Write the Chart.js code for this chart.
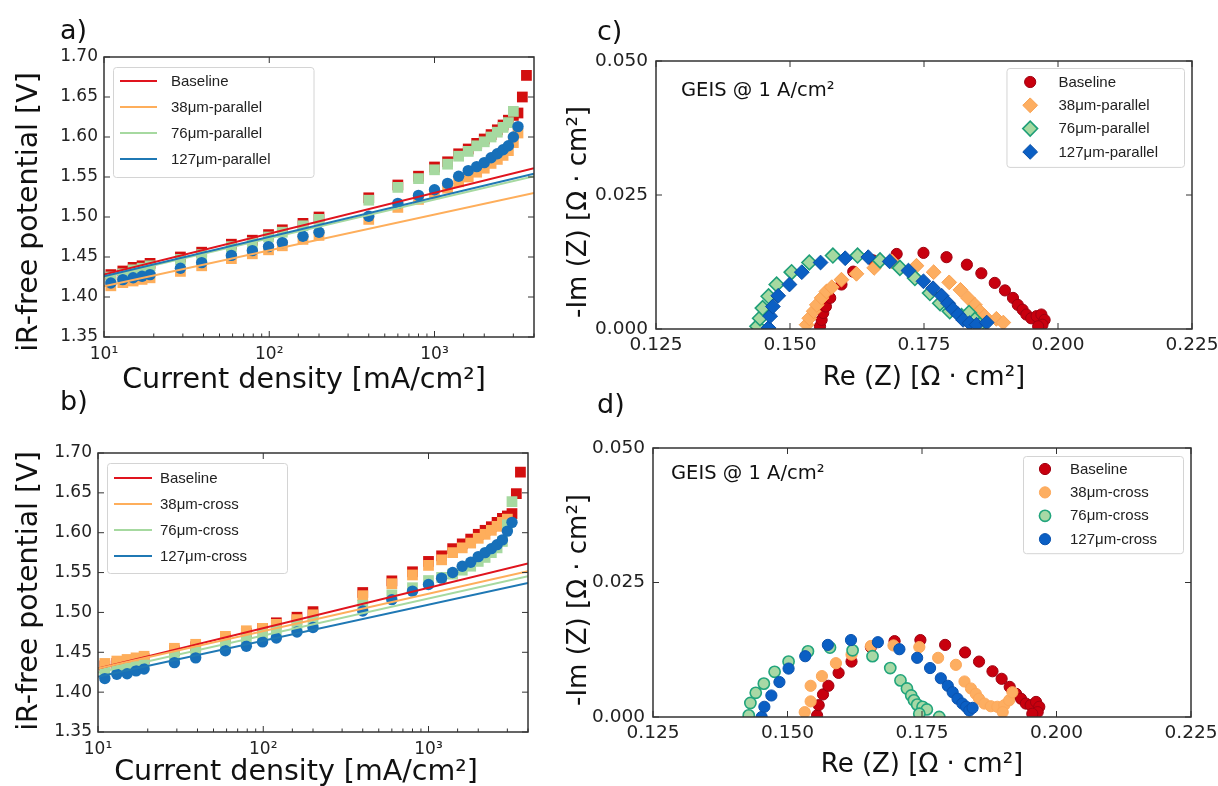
<!DOCTYPE html>
<html>
<head>
<meta charset="utf-8">
<script src="https://cdn.jsdelivr.net/npm/chart.js@4.4.1/dist/chart.umd.min.js"></script>
<style>
  body { margin: 0; background: #fff; width: 1218px; height: 786px; position: relative; overflow: hidden; font-family: 'DejaVu Sans'; color: #111; }
  canvas { position: absolute; }
  .lbl { position: absolute; white-space: nowrap; line-height: 1; }
  .ctr { transform: translateX(-50%); }
  .rot { transform: translate(-50%, -50%) rotate(-90deg); }
</style>
</head>
<body>
<canvas id="chartA" width="560" height="392" style="left:0;top:0"></canvas>
<canvas id="chartB" width="560" height="394" style="left:0;top:392px"></canvas>
<canvas id="chartC" width="658" height="392" style="left:560px;top:0"></canvas>
<canvas id="chartD" width="658" height="394" style="left:560px;top:392px"></canvas>

<div class="lbl" style="left:60px;top:16px;font-size:27px">a)</div>
<div class="lbl" style="left:60px;top:387px;font-size:27px">b)</div>
<div class="lbl" style="left:597px;top:17px;font-size:27px">c)</div>
<div class="lbl" style="left:597px;top:390px;font-size:27px">d)</div>

<div class="lbl rot" style="left:28px;top:212px;font-size:28.5px">iR-free potential [V]</div>
<div class="lbl rot" style="left:28px;top:591px;font-size:28.5px">iR-free potential [V]</div>
<div class="lbl ctr" style="left:304px;top:365px;font-size:28.5px">Current density [mA/cm²]</div>
<div class="lbl ctr" style="left:296px;top:757px;font-size:28.5px">Current density [mA/cm²]</div>

<div class="lbl rot" style="left:577px;top:212px;font-size:26px">-Im (Z) [Ω · cm²]</div>
<div class="lbl rot" style="left:577px;top:600px;font-size:26px">-Im (Z) [Ω · cm²]</div>
<div class="lbl ctr" style="left:924px;top:363px;font-size:26px">Re (Z) [Ω · cm²]</div>
<div class="lbl ctr" style="left:922px;top:750px;font-size:26px">Re (Z) [Ω · cm²]</div>

<div class="lbl" style="left:681px;top:80px;font-size:19.5px">GEIS @ 1 A/cm²</div>
<div class="lbl" style="left:671px;top:463px;font-size:19.5px">GEIS @ 1 A/cm²</div>

<script>
// ---- polarisation data (panels a, b) ----
const current = [11, 13, 15, 17, 19, 29, 39, 59, 79, 99, 120, 160, 200, 400, 600, 800, 1000,
                 1200, 1400, 1600, 1800, 2000, 2200, 2400, 2600, 2800, 3000, 3200, 3400, 3600];
const fitEnds = [10, 4000];
const logTickValues = [10, 100, 1000];
const logTickLabels = ['10¹', '10²', '10³'];

const baseA  = [1.428, 1.4325, 1.437, 1.439, 1.442, 1.450, 1.456, 1.466, 1.471, 1.478, 1.484, 1.492, 1.500, 1.524, 1.540,
                1.551, 1.5625, 1.569, 1.579, 1.585, 1.592, 1.5975, 1.603, 1.609, 1.615, 1.621, 1.627, 1.630, 1.650, 1.677];
const par38  = [1.414, 1.418, 1.420, 1.422, 1.424, 1.432, 1.439, 1.448, 1.454, 1.459, 1.464, 1.472, 1.477, 1.497,
                1.512, 1.522, 1.529, 1.536, 1.544, 1.550, 1.556, 1.561, 1.567, 1.572, 1.577, 1.583, 1.593, 1.605];
const par76  = [1.425, 1.429, 1.434, 1.436, 1.439, 1.447, 1.453, 1.463, 1.468, 1.475, 1.481, 1.489, 1.497, 1.521,
                1.537, 1.548, 1.559, 1.566, 1.576, 1.582, 1.589, 1.594, 1.600, 1.606, 1.612, 1.618, 1.632];
const par127 = [1.4175, 1.4217, 1.424, 1.426, 1.428, 1.436, 1.443, 1.452, 1.458, 1.463, 1.468, 1.476, 1.481, 1.501,
                1.517, 1.527, 1.534, 1.542, 1.551, 1.558, 1.563, 1.568, 1.574, 1.579, 1.584, 1.589, 1.600, 1.613];
const fitBaseA = [1.428, 1.561];
const fitPar38 = [1.4133, 1.530];
const fitPar76 = [1.425, 1.551];
const fitPar127 = [1.426, 1.554];

const baseB    = [1.433, 1.436, 1.438, 1.440, 1.442, 1.452, 1.457, 1.467, 1.474, 1.480, 1.487, 1.494, 1.501, 1.525, 1.5396,
                  1.551, 1.564, 1.571, 1.580, 1.586, 1.592, 1.598, 1.603, 1.6075, 1.613, 1.618, 1.621, 1.624, 1.649, 1.676];
const cross38  = [1.436, 1.439, 1.441, 1.443, 1.445, 1.455, 1.460, 1.470, 1.477, 1.480, 1.485, 1.491, 1.497, 1.521,
                  1.536, 1.547, 1.559, 1.566, 1.575, 1.581, 1.587, 1.593, 1.598, 1.603, 1.608, 1.613, 1.617];
const cross76  = [1.425, 1.428, 1.430, 1.432, 1.434, 1.445, 1.450, 1.460, 1.466, 1.472, 1.477, 1.483, 1.489, 1.509,
                  1.522, 1.531, 1.540, 1.544, 1.548, 1.553, 1.558, 1.564, 1.569, 1.575, 1.581, 1.589, 1.610, 1.639];
const cross127 = [1.417, 1.4225, 1.423, 1.4267, 1.429, 1.437, 1.443, 1.452, 1.4575, 1.463, 1.468, 1.4755, 1.481, 1.5017,
                  1.516, 1.5267, 1.535, 1.543, 1.550, 1.558, 1.563, 1.570, 1.575, 1.580, 1.585, 1.591, 1.602, 1.613];
const fitBaseB = [1.4296, 1.5613];
const fitCross38 = [1.4296, 1.5517];
const fitCross76 = [1.4246, 1.5454];
const fitCross127 = [1.4192, 1.537];

// ---- impedance data (panels c, d) ----
const reBaseC = [0.1556, 0.1559, 0.1562, 0.1567, 0.1575, 0.1596, 0.1618, 0.1655, 0.1699, 0.1749, 0.1792, 0.1830, 0.1857,
                 0.1882, 0.1901, 0.1916, 0.1925, 0.1934, 0.1941, 0.1950, 0.1960, 0.1969, 0.1975, 0.1971, 0.1963];
const imBaseC = [0.0005, 0.0017, 0.0030, 0.0042, 0.0058, 0.0083, 0.0107, 0.0128, 0.0140, 0.0142, 0.0134, 0.0120, 0.0104,
                 0.0086, 0.0072, 0.0058, 0.0045, 0.0036, 0.0027, 0.0020, 0.0024, 0.0027, 0.0017, 0.0008, 0.0005];
const rePar38 = [0.1531, 0.1536, 0.1544, 0.1550, 0.1559, 0.1568, 0.1578, 0.1596, 0.1624, 0.1657, 0.1690, 0.1736, 0.1768,
                 0.1797, 0.1818, 0.1832, 0.1845, 0.1854, 0.1863, 0.1885, 0.1898];
const imPar38 = [0.0008, 0.0020, 0.0033, 0.0045, 0.0058, 0.0070, 0.0078, 0.0092, 0.0103, 0.0114, 0.0126, 0.0118, 0.0106,
                 0.0087, 0.0073, 0.0058, 0.0045, 0.0033, 0.0024, 0.0019, 0.0012];
const rePar76 = [0.1439, 0.1444, 0.1449, 0.1460, 0.1475, 0.1503, 0.1536, 0.1580, 0.1626, 0.1668, 0.1705, 0.1733, 0.1761,
                 0.1780, 0.1798, 0.1820, 0.1834, 0.1845, 0.1854];
const imPar76 = [0.0005, 0.0020, 0.0039, 0.0061, 0.0083, 0.0106, 0.0124, 0.0137, 0.0137, 0.0128, 0.0114, 0.0095, 0.0067,
                 0.0048, 0.0033, 0.0024, 0.0030, 0.0017, 0.0008];
const rePar127 = [0.1460, 0.1463, 0.1468, 0.1478, 0.1499, 0.1522, 0.1557, 0.1603, 0.1646, 0.1686, 0.1721, 0.1749, 0.1767,
                  0.1783, 0.1795, 0.1804, 0.1814, 0.1823, 0.1835, 0.1848, 0.1867];
const imPar127 = [0.0002, 0.0024, 0.0042, 0.0062, 0.0083, 0.0106, 0.0124, 0.0132, 0.0134, 0.0126, 0.0109, 0.0089, 0.0076,
                  0.0062, 0.0048, 0.0037, 0.0027, 0.0017, 0.0011, 0.0008, 0.0012];

const reBaseD = [0.1555, 0.1558, 0.1566, 0.1576, 0.1595, 0.1619, 0.1655, 0.1699, 0.1747, 0.1793, 0.1830, 0.1856, 0.1881,
                 0.1898, 0.1913, 0.1925, 0.1934, 0.1943, 0.1952, 0.1962, 0.1968, 0.1965, 0.1955];
const imBaseD = [0.0003, 0.0022, 0.0042, 0.0058, 0.0082, 0.0103, 0.0130, 0.0141, 0.0143, 0.0134, 0.0120, 0.0103, 0.0085,
                 0.0071, 0.0056, 0.0043, 0.0034, 0.0025, 0.0022, 0.0028, 0.0019, 0.0009, 0.0006];
const reCross38 = [0.1532, 0.1543, 0.1543, 0.1564, 0.1590, 0.1619, 0.1655, 0.1697, 0.1745, 0.1780, 0.1813, 0.1829, 0.1841,
                   0.1850, 0.1856, 0.1866, 0.1878, 0.1890, 0.1903, 0.1912, 0.1918, 0.1900];
const imCross38 = [0.0009, 0.0029, 0.0058, 0.0076, 0.0100, 0.0116, 0.0132, 0.0133, 0.0130, 0.0110, 0.0097, 0.0066, 0.0053,
                   0.0043, 0.0034, 0.0025, 0.0020, 0.0019, 0.0022, 0.0031, 0.0046, 0.0009];
const reCross76 = [0.1428, 0.1431, 0.1441, 0.1456, 0.1476, 0.1502, 0.1538, 0.1579, 0.1621, 0.1658, 0.1691, 0.1710, 0.1722,
                   0.1730, 0.1735, 0.1741, 0.1751, 0.1759, 0.1745, 0.1782];
const imCross76 = [0.0003, 0.0026, 0.0045, 0.0062, 0.0084, 0.0103, 0.0122, 0.0129, 0.0124, 0.0113, 0.0091, 0.0068, 0.0053,
                   0.0040, 0.0031, 0.0023, 0.0019, 0.0014, 0.0006, 0.0000];
const reCross127 = [0.1452, 0.1457, 0.1470, 0.1485, 0.1502, 0.1533, 0.1575, 0.1618, 0.1668, 0.1708, 0.1741, 0.1765, 0.1785,
                    0.1798, 0.1807, 0.1816, 0.1825, 0.1832, 0.1838, 0.1844];
const imCross127 = [0.0000, 0.0019, 0.0040, 0.0065, 0.0090, 0.0113, 0.0134, 0.0143, 0.0139, 0.0126, 0.0110, 0.0091, 0.0072,
                    0.0058, 0.0046, 0.0034, 0.0025, 0.0019, 0.0012, 0.0017];

// ---- helpers ----
Chart.defaults.font.family = 'DejaVu Sans';
Chart.defaults.color = '#222';

function pts(xs, ys) {
    return ys.map((v, i) => ({ x: xs[i], y: v }));
}

// fixed axis sizes so each plot box lands where it should
function fixAxis(size) {
    return function(scale) {
        if (scale.isHorizontal()) scale.height = size; else scale.width = size;
        scale.paddingLeft = scale.paddingRight = scale.paddingTop = scale.paddingBottom = 0;
    };
}

// frame around the plot plus inward tick marks on all four sides
const frameTicks = {
    id: 'frameTicks',
    afterDatasetsDraw(chart) {
        const { ctx, chartArea: a, scales: { x, y } } = chart;
        ctx.save();
        ctx.strokeStyle = '#333';
        ctx.lineWidth = 1;
        ctx.beginPath();
        x.ticks.forEach(t => {
            const p = x.getPixelForValue(t.value);
            let major = true;
            if (x.type === 'logarithmic') {
                const l = Math.log10(t.value);
                major = Math.abs(l - Math.round(l)) < 1e-9;
            }
            const len = major ? 6 : 3.5;
            ctx.moveTo(p, a.bottom); ctx.lineTo(p, a.bottom - len);
            if (major) { ctx.moveTo(p, a.top); ctx.lineTo(p, a.top + len); }
        });
        y.ticks.forEach(t => {
            const p = y.getPixelForValue(t.value);
            ctx.moveTo(a.left, p); ctx.lineTo(a.left + 6, p);
            ctx.moveTo(a.right, p); ctx.lineTo(a.right - 6, p);
        });
        ctx.stroke();
        ctx.lineWidth = 1.5;
        ctx.strokeRect(a.left, a.top, a.right - a.left, a.bottom - a.top);
        ctx.restore();
    }
};

// matplotlib-like legend box inside the plot
const boxLegend = {
    id: 'boxLegend',
    afterDatasetsDraw(chart, args, o) {
        const ctx = chart.ctx, a = chart.chartArea;
        const items = chart.data.datasets.filter(d => d.inLegend);
        ctx.save();
        ctx.font = o.font;
        const textW = Math.max(...items.map(d => ctx.measureText(d.label).width));
        const w = o.textX + textW + o.padR;
        const h = o.firstRow + (items.length - 1) * o.rowH + o.lastPad;
        const left = o.anchor === 'right' ? a.right - o.offsetX - w : a.left + o.offsetX;
        const top = a.top + o.offsetY;
        ctx.beginPath();
        if (ctx.roundRect) ctx.roundRect(left + 0.5, top + 0.5, w, h, 3); else ctx.rect(left + 0.5, top + 0.5, w, h);
        ctx.fillStyle = 'rgba(255,255,255,0.85)';
        ctx.fill();
        ctx.strokeStyle = '#d4d4d4';
        ctx.lineWidth = 1;
        ctx.stroke();
        items.forEach((d, i) => {
            const yy = top + o.firstRow + i * o.rowH;
            if (o.swatch === 'line') {
                ctx.beginPath();
                ctx.strokeStyle = d.borderColor;
                ctx.lineWidth = d.borderWidth;
                ctx.moveTo(left + o.swatchX, yy);
                ctx.lineTo(left + o.swatchX + o.swatchW, yy);
                ctx.stroke();
            } else {
                ctx.fillStyle = d.pointBackgroundColor;
                ctx.strokeStyle = d.pointBorderColor;
                ctx.lineWidth = d.pointBorderWidth;
                Chart.helpers.drawPoint(ctx, {
                    pointStyle: d.pointStyle, radius: d.pointRadius, rotation: 0, borderWidth: d.pointBorderWidth
                }, left + o.swatchX, yy);
            }
            ctx.fillStyle = '#222';
            ctx.textBaseline = 'middle';
            ctx.textAlign = 'left';
            ctx.fillText(d.label, left + o.textX, yy + 0.5);
        });
        ctx.restore();
    }
};

function markerSet(label, data, style, radius, fill, edge, edgeW, order, inLegend) {
    return {
        label: label, data: data, order: order, inLegend: inLegend, clip: 0,
        pointStyle: style, pointRadius: radius, pointHoverRadius: radius,
        pointBackgroundColor: fill, pointBorderColor: edge, pointBorderWidth: edgeW,
        backgroundColor: fill, borderColor: edge, showLine: false
    };
}

function fitSet(label, values, color, order) {
    return {
        label: label, data: pts(fitEnds, values), order: order, inLegend: true, clip: 0,
        showLine: true, borderColor: color, backgroundColor: color, borderWidth: 2,
        pointRadius: 0, pointHoverRadius: 0, tension: 0
    };
}

function polarisationChart(id, series, pad, yWidth, legend) {
    const red = '#d30f0f', orange = '#feae5b', green = '#a6d9a0', blue = '#1770b9';
    return new Chart(document.getElementById(id), {
        type: 'scatter',
        data: {
            datasets: [
                markerSet('', pts(current, series.base), 'rect', 7.6, red, red, 0, 7, false),
                markerSet('', pts(current, series.s38), 'rect', 7.6, orange, orange, 0, 6, false),
                markerSet('', pts(current, series.s76), 'rect', 7.6, green, green, 0, 5, false),
                markerSet('', pts(current, series.s127), 'circle', 5.7, blue, blue, 0, 4, false),
                fitSet(series.names[0], series.fits[0], '#e0141e', 3),
                fitSet(series.names[1], series.fits[1], '#feae5b', 2),
                fitSet(series.names[2], series.fits[2], '#a6d9a0', 1),
                fitSet(series.names[3], series.fits[3], '#1f78b4', 0)
            ]
        },
        options: {
            responsive: false,
            animation: false,
            layout: { padding: pad, autoPadding: false },
            plugins: { legend: { display: false }, tooltip: { enabled: false }, boxLegend: legend },
            scales: {
                x: {
                    type: 'logarithmic', min: 10, max: 4000,
                    grid: { display: false, drawTicks: false }, border: { display: false },
                    ticks: {
                        autoSkip: false, maxRotation: 0, padding: 7, font: { size: 17 },
                        callback: v => { const k = logTickValues.indexOf(v); return k >= 0 ? logTickLabels[k] : ''; }
                    },
                    afterFit: fixAxis(30)
                },
                y: {
                    type: 'linear', min: 1.35, max: 1.70,
                    grid: { display: false, drawTicks: false }, border: { display: false },
                    ticks: { stepSize: 0.05, padding: 6, font: { size: 17 }, callback: v => v.toFixed(2) },
                    afterFit: fixAxis(yWidth)
                }
            }
        },
        plugins: [frameTicks, boxLegend]
    });
}

function nyquistChart(id, sets, pad, yWidth, legend) {
    return new Chart(document.getElementById(id), {
        type: 'scatter',
        data: { datasets: sets },
        options: {
            responsive: false,
            animation: false,
            layout: { padding: pad, autoPadding: false },
            plugins: { legend: { display: false }, tooltip: { enabled: false }, boxLegend: legend },
            scales: {
                x: {
                    type: 'linear', min: 0.125, max: 0.225,
                    grid: { display: false, drawTicks: false }, border: { display: false },
                    ticks: { stepSize: 0.025, autoSkip: false, maxRotation: 0, padding: 5, font: { size: 18.5 }, callback: v => v.toFixed(3) },
                    afterFit: fixAxis(30)
                },
                y: {
                    type: 'linear', min: 0, max: 0.05,
                    grid: { display: false, drawTicks: false }, border: { display: false },
                    ticks: { stepSize: 0.025, padding: 8, font: { size: 18.5 }, callback: v => v.toFixed(3) },
                    afterFit: fixAxis(yWidth)
                }
            }
        },
        plugins: [frameTicks, boxLegend]
    });
}

const legendFont = "15px 'Liberation Sans'";

// a) parallel
polarisationChart('chartA', {
    base: baseA, s38: par38, s76: par76, s127: par127,
    fits: [fitBaseA, fitPar38, fitPar76, fitPar127],
    names: ['Baseline', '38μm-parallel', '76μm-parallel', '127μm-parallel']
}, { left: 0, top: 57, right: 26, bottom: 25 }, 104,
{ swatch: 'line', font: legendFont, anchor: 'left', offsetX: 9, offsetY: 10, firstRow: 14, rowH: 26, lastPad: 18,
  swatchX: 7, swatchW: 37, textX: 58, padR: 43 });

// b) cross
polarisationChart('chartB', {
    base: baseB, s38: cross38, s76: cross76, s127: cross127,
    fits: [fitBaseB, fitCross38, fitCross76, fitCross127],
    names: ['Baseline', '38μm-cross', '76μm-cross', '127μm-cross']
}, { left: 0, top: 61, right: 32, bottom: 24 }, 98,
{ swatch: 'line', font: legendFont, anchor: 'left', offsetX: 9, offsetY: 10, firstRow: 15, rowH: 26, lastPad: 17,
  swatchX: 7, swatchW: 38, textX: 53, padR: 40 });

// c) parallel, GEIS
nyquistChart('chartC', [
    markerSet('Baseline', pts(reBaseC, imBaseC), 'circle', 5.6, '#c8000e', '#9e0010', 1, 3, true),
    markerSet('38μm-parallel', pts(rePar38, imPar38), 'rectRot', 7.4, '#fdae61', '#f8a050', 1, 2, true),
    markerSet('76μm-parallel', pts(rePar76, imPar76), 'rectRot', 7.4, '#a6d9a0', '#1f9f78', 1.6, 1, true),
    markerSet('127μm-parallel', pts(rePar127, imPar127), 'rectRot', 7.4, '#0b5fc4', '#084fa6', 1, 0, true)
], { left: 0, top: 61, right: 26, bottom: 33 }, 96,
{ swatch: 'marker', font: legendFont, anchor: 'right', offsetX: 8, offsetY: 7, firstRow: 14, rowH: 23.3, lastPad: 15,
  swatchX: 23.7, textX: 52, padR: 26 });

// d) cross, GEIS
nyquistChart('chartD', [
    markerSet('Baseline', pts(reBaseD, imBaseD), 'circle', 5.6, '#c8000e', '#9e0010', 1, 3, true),
    markerSet('38μm-cross', pts(reCross38, imCross38), 'circle', 5.6, '#fdae61', '#fca85a', 1, 2, true),
    markerSet('76μm-cross', pts(reCross76, imCross76), 'circle', 5.6, '#a8d8a5', '#22a57c', 1.6, 1, true),
    markerSet('127μm-cross', pts(reCross127, imCross127), 'circle', 5.6, '#0b5fc4', '#0a52ad', 1, 0, true)
], { left: 0, top: 56, right: 27, bottom: 39 }, 93,
{ swatch: 'marker', font: legendFont, anchor: 'right', offsetX: 8, offsetY: 8, firstRow: 13, rowH: 23.4, lastPad: 14,
  swatchX: 22, textX: 47, padR: 26 });
</script>
</body>
</html>
